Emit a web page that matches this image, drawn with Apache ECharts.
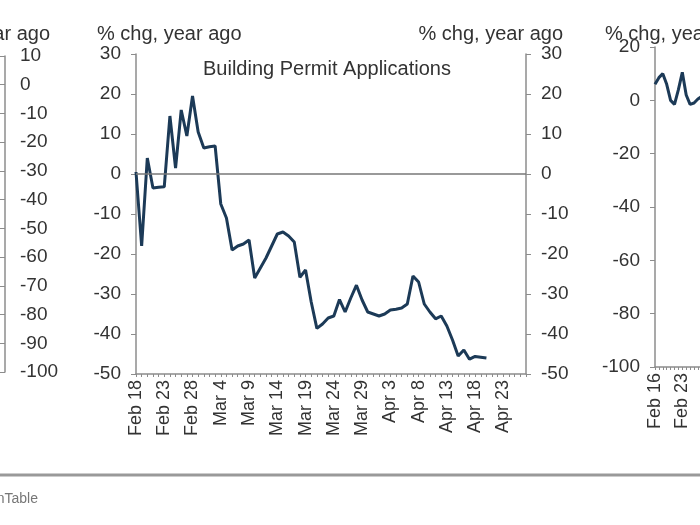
<!DOCTYPE html>
<html>
<head>
<meta charset="utf-8">
<script src="https://cdn.jsdelivr.net/npm/echarts@6/dist/echarts.min.js"></script>
<style>
html,body{margin:0;padding:0;background:#fff;}
#chart{width:700px;height:525px;}
</style>
</head>
<body>
<div id="chart"></div>
<script>
// ---- data ----
const monthNames = ['Feb', 'Mar', 'Apr'];
const monthDays = [29, 31, 30];
// middle panel: daily, Feb 18 .. Apr 27 (2020)
const permitStart = {m: 0, d: 18};
const permitDays = 70;
// Building permit applications, % chg year ago (Feb 18 .. Apr 20)
const permitValues = [0.5, -18, 4, -3.5, -3.3, -3.2, 14.5, 1.5, 16, 9.5,
  19.5, 10.5, 6.5, 6.8, 7, -7.5, -11, -19, -18, -17.5,
  -16.5, -26, -23.5, -21, -18, -15, -14.5, -15.5, -17, -25.8,
  -24, -32, -38.6, -37.5, -36, -35.5, -31.4, -34.5, -31, -27.8,
  -31.5, -34.5, -35, -35.5, -35, -34, -33.8, -33.5, -32.5, -25.5,
  -27, -32.5, -34.5, -36.2, -35.5, -38, -41.5, -45.5, -44, -46.3,
  -45.6, -45.8, -46];
// right panel: daily from Feb 16 (only the visible part)
const diningStart = {m: 0, d: 16};
const diningDays = 71;
const diningValues = [6, 8.5, 10, 6, 0, -1.5, 4, 10.5, 2, -1.5, -1, 0.5, 1.5, 2.5];

const middleTicks = {min: -50, max: 30, interval: 10};
const leftTicks = {min: -100, max: 10, interval: 10};
const rightTicks = {min: -100, max: 20, interval: 20};

const axisTitle = '% chg, year ago';
const chartTitle = 'Building Permit Applications';
const sourceText = 'Source: OpenTable';

function makeDates(start, n) {
  const out = [];
  let m = start.m, d = start.d;
  for (let i = 0; i < n; i++) {
    out.push(monthNames[m] + ' ' + d);
    d++;
    if (d > monthDays[m]) { d = 1; m++; }
  }
  return out;
}
const permitDates = makeDates(permitStart, permitDays);
const diningDates = makeDates(diningStart, diningDays);

// ---- chart ----
const FONT = 'Liberation Sans, Arial, sans-serif';
const txt = '#333';
const axisCol = '#8c8c8c';
const lineCol = '#1c3a57';

const chart = echarts.init(document.getElementById('chart'), null, {renderer: 'canvas'});

const yAxisCommon = (pos, ticks, gridIndex, tickInside) => ({
  type: 'value', gridIndex, position: pos,
  min: ticks.min, max: ticks.max, interval: ticks.interval,
  axisLine: {show: true, onZero: false, lineStyle: {color: axisCol, width: 1.5}},
  axisTick: {show: true, inside: !!tickInside, length: 5, lineStyle: {color: axisCol}},
  axisLabel: {color: txt, fontSize: 19, fontFamily: FONT, margin: 15},
  splitLine: {show: false}
});
const xAxisCommon = (gridIndex, data, labelInterval) => ({
  type: 'category', gridIndex, data, boundaryGap: false,
  axisLine: {show: true, onZero: false, lineStyle: {color: axisCol, width: 1.5}},
  axisTick: {show: true, interval: 0, length: 3, lineStyle: {color: axisCol}},
  axisLabel: {interval: labelInterval, rotate: 90, color: txt, fontSize: 18, fontFamily: FONT, margin: 6},
  splitLine: {show: false}
});
const titleStyle = {fontSize: 20, fontWeight: 'normal', color: txt, fontFamily: FONT};

chart.setOption({
  animation: false,
  backgroundColor: '#fff',
  title: [
    {text: axisTitle, right: 645, top: 19, textStyle: titleStyle},
    {text: axisTitle, left: 92, top: 19, textStyle: titleStyle},
    {text: axisTitle, right: 132, top: 19, textStyle: titleStyle},
    {text: axisTitle, left: 600, top: 19, textStyle: titleStyle},
    {text: chartTitle, left: 198, top: 54, textStyle: titleStyle}
  ],
  grid: [
    {left: -300, width: 305, top: 56, height: 316, outerBoundsMode: 'none', containLabel: false},
    {left: 136, width: 390, top: 54, height: 320, outerBoundsMode: 'none', containLabel: false},
    {left: 655, width: 273, top: 47, height: 320, outerBoundsMode: 'none', containLabel: false}
  ],
  xAxis: [
    Object.assign(xAxisCommon(0, permitDates, 4), {show: false}),
    xAxisCommon(1, permitDates, 4),
    xAxisCommon(2, diningDates, 6)
  ],
  yAxis: [
    yAxisCommon('right', leftTicks, 0, true),
    yAxisCommon('left', middleTicks, 1),
    yAxisCommon('right', middleTicks, 1),
    yAxisCommon('left', rightTicks, 2)
  ],
  series: [
    {type: 'line', xAxisIndex: 1, yAxisIndex: 1, data: permitValues, showSymbol: false,
      lineStyle: {color: lineCol, width: 3}, itemStyle: {color: lineCol},
      markLine: {silent: true, symbol: 'none', label: {show: false},
        lineStyle: {color: '#777', width: 1.5, type: 'solid'}, data: [{yAxis: 0}]}},
    {type: 'line', xAxisIndex: 2, yAxisIndex: 3, data: diningValues, showSymbol: false,
      lineStyle: {color: lineCol, width: 3}, itemStyle: {color: lineCol}}
  ],
  graphic: [
    {type: 'line', shape: {x1: 0, y1: 475, x2: 700, y2: 475}, style: {stroke: '#999', lineWidth: 3}},
    {type: 'text', x: 38, y: 499, style: {text: sourceText, fill: '#777', fontSize: 14, fontFamily: FONT, textAlign: 'right', textVerticalAlign: 'middle'}}
  ]
});
</script>
</body>
</html>
